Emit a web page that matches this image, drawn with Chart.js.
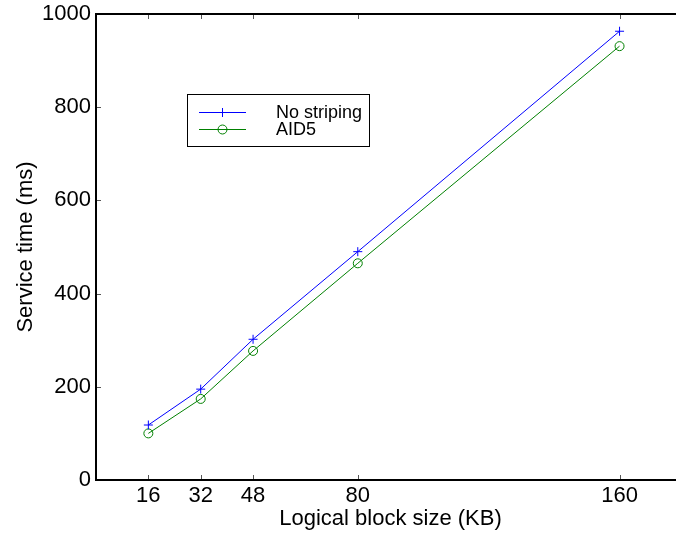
<!DOCTYPE html>
<html>
<head>
<meta charset="utf-8">
<script src="https://cdn.jsdelivr.net/npm/chart.js@4"></script>
<style>
  html, body { margin: 0; padding: 0; overflow: hidden; background: #fff; }
</style>
</head>
<body>
<canvas id="myChart" width="700" height="540"></canvas>
<script>
// values
const blockSizes = [16, 32, 48, 80, 160];
const noStriping = [118, 195, 302, 490, 963];
const aid5 = [100, 174, 277, 465, 931];
const xTicks = [16, 32, 48, 80, 160];
const yTicks = [0, 200, 400, 600, 800, 1000];
const seriesNames = ['No striping', 'AID5'];

Chart.defaults.font.family = '"Liberation Sans", Arial, Helvetica, sans-serif';
Chart.defaults.color = '#000';

// box round the plot + matlab style inward ticks on all sides
const boxPlugin = {
  id: 'boxTicks',
  afterDraw(chart) {
    const { ctx, chartArea: a, scales } = chart;
    ctx.save();
    ctx.strokeStyle = '#555';
    ctx.lineWidth = 1;
    ctx.beginPath();
    xTicks.forEach(v => {
      const x = Math.round(scales.x.getPixelForValue(v)) + 0.5;
      ctx.moveTo(x, a.bottom); ctx.lineTo(x, a.bottom - 5);
      ctx.moveTo(x, a.top); ctx.lineTo(x, a.top + 5);
    });
    yTicks.forEach(v => {
      const y = Math.round(scales.y.getPixelForValue(v)) + 0.5;
      ctx.moveTo(a.left, y); ctx.lineTo(a.left + 5, y);
      ctx.moveTo(a.right, y); ctx.lineTo(a.right - 5, y);
    });
    ctx.stroke();
    ctx.strokeStyle = '#000';
    ctx.lineWidth = 2;
    ctx.strokeRect(a.left, a.top, a.right - a.left, a.bottom - a.top);
    ctx.restore();
  }
};

// legend box drawn inside the plot
const legendPlugin = {
  id: 'boxLegend',
  afterDraw(chart) {
    const ctx = chart.ctx;
    const bx = 187, by = 94, bw = 182, bh = 52;
    ctx.save();
    ctx.fillStyle = '#fff';
    ctx.fillRect(bx, by, bw, bh);
    ctx.strokeStyle = '#000';
    ctx.lineWidth = 1;
    ctx.strokeRect(bx + 0.5, by + 0.5, bw, bh);
    ctx.font = '18px "Liberation Sans", Arial, sans-serif';
    ctx.textBaseline = 'middle';
    chart.data.datasets.forEach((ds, i) => {
      const y = by + 18 + i * 17;
      ctx.strokeStyle = ds.borderColor;
      ctx.fillStyle = 'rgba(0,0,0,0)';
      ctx.lineWidth = 1;
      ctx.beginPath();
      ctx.moveTo(199, y + 0.5); ctx.lineTo(246, y + 0.5);
      ctx.stroke();
      Chart.helpers.drawPoint(ctx, {
        pointStyle: ds.pointStyle, radius: ds.pointRadius, borderWidth: 1, rotation: 0
      }, 222.5, y + 0.5);
      ctx.fillStyle = '#000';
      ctx.fillText(ds.label, 276, y + 1);
    });
    ctx.restore();
  }
};

const chart = new Chart(document.getElementById('myChart'), {
  type: 'scatter',
  data: {
    datasets: [
      {
        label: seriesNames[0],
        data: blockSizes.map((x, i) => ({ x: x, y: noStriping[i] })),
        showLine: true,
        borderColor: '#0000ff',
        backgroundColor: 'rgba(0,0,0,0)',
        borderWidth: 1,
        pointStyle: 'cross',
        pointRadius: 4.5,
        pointBorderWidth: 1
      },
      {
        label: seriesNames[1],
        data: blockSizes.map((x, i) => ({ x: x, y: aid5[i] })),
        showLine: true,
        borderColor: '#008000',
        backgroundColor: 'rgba(0,0,0,0)',
        borderWidth: 1,
        pointStyle: 'circle',
        pointRadius: 4.5,
        pointBorderWidth: 1
      }
    ]
  },
  options: {
    responsive: false,
    animation: false,
    layout: { padding: { top: 14, right: 15, left: 0, bottom: 0 } },
    plugins: {
      legend: { display: false },
      tooltip: { enabled: false }
    },
    scales: {
      x: {
        type: 'linear',
        min: 0,
        max: 180,
        grid: { display: false, drawTicks: false },
        border: { display: false },
        afterBuildTicks: scale => { scale.ticks = xTicks.map(v => ({ value: v })); },
        afterFit: scale => {
          scale.height = 60;
          scale.paddingLeft = 0;
          scale.paddingRight = 0;
        },
        ticks: { font: { size: 22 }, padding: 3, maxRotation: 0, callback: v => String(v) },
        title: {
          display: true,
          text: 'Logical block size (KB)',
          font: { size: 22 },
          padding: { top: 0, bottom: 8 }
        }
      },
      y: {
        min: 0,
        max: 1000,
        grid: { display: false, drawTicks: false },
        border: { display: false },
        afterBuildTicks: scale => { scale.ticks = yTicks.map(v => ({ value: v })); },
        afterFit: scale => {
          scale.width = 96;
          scale.paddingTop = 0;
          scale.paddingBottom = 0;
        },
        ticks: { font: { size: 22 }, padding: 5, callback: v => String(v) },
        title: {
          display: true,
          text: 'Service time (ms)',
          font: { size: 22 },
          padding: { top: 13, bottom: 0 }
        }
      }
    }
  },
  plugins: [boxPlugin, legendPlugin]
});
</script>
</body>
</html>
